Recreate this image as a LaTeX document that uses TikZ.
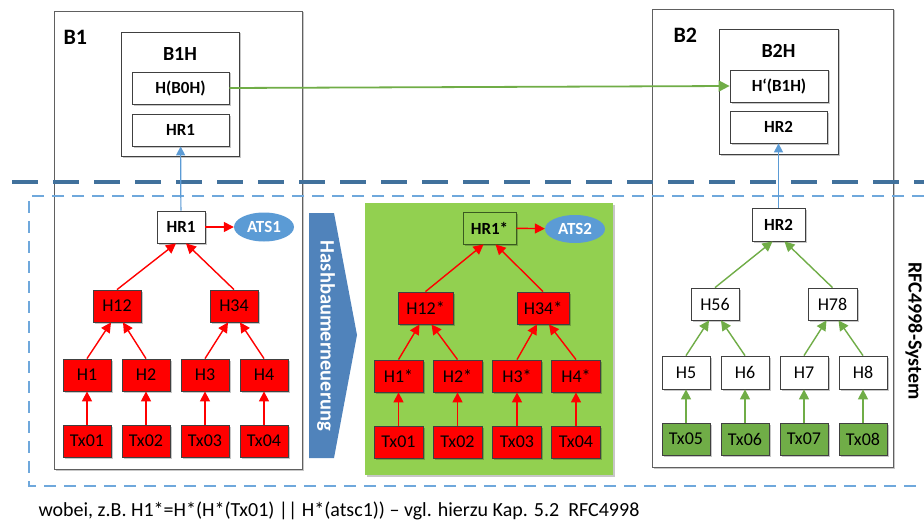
\documentclass[tikz,border=0pt]{standalone}
\usepackage{fontspec}
\setmainfont{Carlito}
\usetikzlibrary{arrows.meta,shadows,shapes.geometric}
\definecolor{hred}{HTML}{FF0000}
\definecolor{panelgreen}{HTML}{92D050}
\definecolor{txgreen}{HTML}{70AD47}
\definecolor{linegreen}{HTML}{70AD47}
\definecolor{atsblue}{HTML}{5B9BD5}
\definecolor{chevblue}{HTML}{5083BB}
\definecolor{darkdash}{HTML}{41719C}
\definecolor{lightdash}{HTML}{6FA8DC}
\definecolor{boxline}{HTML}{404040}
\definecolor{frameline}{HTML}{606060}
\definecolor{hrgreenline}{HTML}{3A5A20}

\begin{document}
\begin{tikzpicture}[x=1pt,y=-1pt,
  shadowed/.style={drop shadow={shadow xshift=1.5pt,shadow yshift=-1.5pt,opacity=0.22,fill=black}},
  hbox/.style={draw=boxline,line width=0.8pt,inner sep=0pt,minimum width=48pt,minimum height=32pt,
    font=\fontsize{18}{18}\selectfont,shadowed},
  redbox/.style={hbox,fill=hred},
  whitebox/.style={hbox,fill=white},
  txgbox/.style={hbox,fill=txgreen},
  topbox/.style={hbox,fill=white,minimum width=97pt,font=\fontsize{17}{17}\selectfont\bfseries},
  frame/.style={draw=frameline,line width=0.9pt,fill=white,shadowed},
  ats/.style={ellipse,fill=atsblue,text=white,inner sep=0pt,minimum width=60pt,minimum height=29pt,
    font=\fontsize{17}{17}\selectfont\bfseries},
  redarrow/.style={draw=hred,line width=1.4pt,-{Triangle[length=10pt,width=10pt]}},
  greenarrow/.style={draw=linegreen,line width=1.4pt,-{Triangle[length=10pt,width=10pt]}},
  bluearrow/.style={draw=atsblue,line width=1.2pt,-{Triangle[length=9pt,width=9pt]}},
  blocklabel/.style={font=\fontsize{22}{22}\selectfont\bfseries,anchor=west},
  headlabel/.style={font=\fontsize{20}{20}\selectfont\bfseries}
]
\useasboundingbox (0,0) rectangle (924,527);

% ---------- block frames ----------
\draw[frame] (54,11) rectangle (302,469);
\draw[frame] (652,9) rectangle (893,467);
\node[blocklabel] (b1lab) at (60,37) {B1};
\node[blocklabel] (b2lab) at (670,35) {B2};

% ---------- block headers ----------
\draw[frame,draw=boxline] (121,32) rectangle (239,156);
\node[headlabel] (b1h) at (180,54) {B1H};
\node[topbox] (hb0h) at (180.5,88) {H(B0H)};
\node[topbox] (hr1top) at (180.5,130) {HR1};

\draw[frame,draw=boxline] (719,29) rectangle (838,154);
\node[headlabel] (b2h) at (778.5,51) {B2H};
\node[topbox,minimum width=98pt] (hb1h) at (779,86) {H‘(B1H)};
\node[topbox] (hr2top) at (778.5,127) {HR2};

% ---------- separators ----------
\draw[darkdash,line width=4pt,dash pattern=on 26pt off 15pt] (12,182) -- (924,182);
\draw[lightdash,line width=1.4pt,dash pattern=on 12pt off 8pt] (924,196) -- (29,196) -- (29,486) -- (924,486);

% ---------- left tree (B1) ----------
\node[whitebox,font=\fontsize{17}{17}\selectfont\bfseries] (hra) at (181,227) {HR1};
\node[ats] (ats1) at (264,227) {ATS1};
\node[redbox] (h12) at (117,306) {H12};
\node[redbox] (h34) at (234,306) {H34};
\node[redbox] (h1) at (87,375) {H1};
\node[redbox] (h2) at (146,375) {H2};
\node[redbox] (h3) at (205,375) {H3};
\node[redbox] (h4) at (264,375) {H4};
\node[redbox] (t1) at (87,441) {Tx01};
\node[redbox] (t2) at (146,441) {Tx02};
\node[redbox] (t3) at (205,441) {Tx03};
\node[redbox] (t4) at (264,441) {Tx04};

\draw[redarrow] (hra) -- (ats1);
\draw[redarrow] (h12.north) -- ([xshift=-5pt]hra.south);
\draw[redarrow] (h34.north) -- ([xshift=5pt]hra.south);
\draw[redarrow] (h1.north) -- ([xshift=-6pt]h12.south);
\draw[redarrow] (h2.north) -- ([xshift=6pt]h12.south);
\draw[redarrow] (h3.north) -- ([xshift=-6pt]h34.south);
\draw[redarrow] (h4.north) -- ([xshift=6pt]h34.south);
\draw[redarrow] (t1) -- (h1);
\draw[redarrow] (t2) -- (h2);
\draw[redarrow] (t3) -- (h3);
\draw[redarrow] (t4) -- (h4);
\draw[bluearrow] (hra) -- (hr1top);

% ---------- renewal chevron ----------
\fill[chevblue] (309,213) -- (334,213) -- (357,335) -- (334,458) -- (309,458) -- cycle;
\node[rotate=-90,text=white,font=\fontsize{20.5}{20.5}\selectfont\bfseries] (renew) at (326,336) {Hashbaumerneuerung};

% ---------- renewed tree ----------
\fill[panelgreen,drop shadow={shadow xshift=2pt,shadow yshift=-2pt,opacity=0.22,fill=black}] (365,203) rectangle (613,475);
\node[hbox,fill=panelgreen,draw=hrgreenline,minimum width=53pt,font=\fontsize{17}{17}\selectfont\bfseries] (hrb) at (489.5,228) {HR1*};
\node[ats,minimum height=28pt] (ats2) at (575,229) {ATS2};
\node[redbox,minimum width=55pt] (h12s) at (425.5,308) {H12*};
\node[redbox,minimum width=52pt] (h34s) at (543,308) {H34*};
\node[redbox,minimum width=49pt] (h1s) at (398.5,376) {H1*};
\node[redbox,minimum width=49pt] (h2s) at (457.5,376) {H2*};
\node[redbox,minimum width=49pt] (h3s) at (517,376) {H3*};
\node[redbox,minimum width=49pt] (h4s) at (576,376) {H4*};
\node[redbox,minimum width=49pt] (t1s) at (398.5,442) {Tx01};
\node[redbox,minimum width=49pt] (t2s) at (457.5,442) {Tx02};
\node[redbox,minimum width=49pt] (t3s) at (517,442) {Tx03};
\node[redbox,minimum width=49pt] (t4s) at (576,442) {Tx04};

\draw[redarrow] (hrb) -- (ats2);
\draw[redarrow] (h12s.north) -- ([xshift=-6pt]hrb.south);
\draw[redarrow] (h34s.north) -- ([xshift=6pt]hrb.south);
\draw[redarrow] (h1s.north) -- ([xshift=-6pt]h12s.south);
\draw[redarrow] (h2s.north) -- ([xshift=6pt]h12s.south);
\draw[redarrow] (h3s.north) -- ([xshift=-6pt]h34s.south);
\draw[redarrow] (h4s.north) -- ([xshift=6pt]h34s.south);
\draw[redarrow] (t1s) -- (h1s);
\draw[redarrow] (t2s) -- (h2s);
\draw[redarrow] (t3s) -- (h3s);
\draw[redarrow] (t4s) -- (h4s);

% ---------- right tree (B2) ----------
\node[whitebox,minimum width=53pt,minimum height=33pt,font=\fontsize{17}{17}\selectfont\bfseries] (hrc) at (778.5,224.5) {HR2};
\node[whitebox] (h56) at (715,304) {H56};
\node[whitebox,minimum width=49pt] (h78) at (832.5,304) {H78};
\node[whitebox,minimum height=33pt] (h5) at (686,372.5) {H5};
\node[whitebox,minimum height=33pt] (h6) at (745,372.5) {H6};
\node[whitebox,minimum height=33pt] (h7) at (804,372.5) {H7};
\node[whitebox,minimum height=33pt] (h8) at (863,372.5) {H8};
\node[txgbox] (t5) at (686,439) {Tx05};
\node[txgbox] (t6) at (745,439) {Tx06};
\node[txgbox] (t7) at (804,439) {Tx07};
\node[txgbox] (t8) at (863,439) {Tx08};

\draw[greenarrow] (h56.north) -- ([xshift=-6pt]hrc.south);
\draw[greenarrow] (h78.north) -- ([xshift=6pt]hrc.south);
\draw[greenarrow] (h5.north) -- ([xshift=-6pt]h56.south);
\draw[greenarrow] (h6.north) -- ([xshift=6pt]h56.south);
\draw[greenarrow] (h7.north) -- ([xshift=-6pt]h78.south);
\draw[greenarrow] (h8.north) -- ([xshift=6pt]h78.south);
\draw[greenarrow] (t5) -- (h5);
\draw[greenarrow] (t6) -- (h6);
\draw[greenarrow] (t7) -- (h7);
\draw[greenarrow] (t8) -- (h8);
\draw[bluearrow] (hrc) -- (hr2top);

% ---------- chain link between block headers ----------
\draw[linegreen,line width=1.8pt,-{Triangle[length=11pt,width=11pt]}] (hb0h.east) -- (hb1h.west);

% ---------- side label and footnote ----------
\node[rotate=-90,font=\fontsize{20}{20}\selectfont\bfseries] (sys) at (914,331) {RFC4998-System};
\node[anchor=west,font=\fontsize{20}{20}\selectfont] (note) at (35,511)
  {wobei, z.B. H1*=H*(H*(Tx01) || H*(atsc1)) – vgl. hierzu Kap. 5.2\ \ RFC4998};
\end{tikzpicture}
\end{document}
